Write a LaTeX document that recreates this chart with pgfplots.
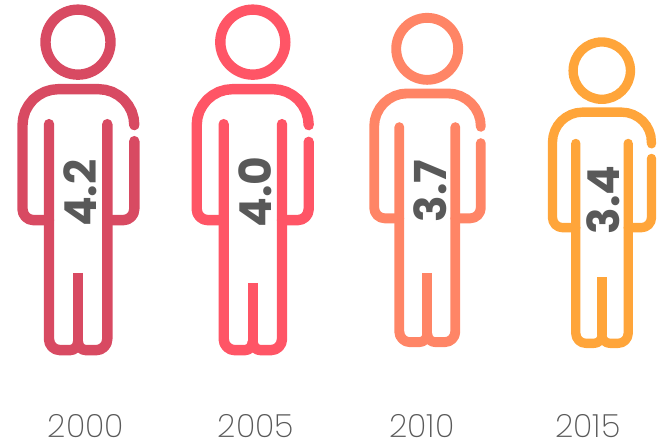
\documentclass[border=0pt]{standalone}
\usepackage{pgfplots}
\pgfplotsset{compat=1.18}
\usepackage{fontspec}
\setmainfont{Poppins}
\newfontfamily\yearfont{Poppins ExtraLight}
\definecolor{pa}{HTML}{D84A62}
\definecolor{pb}{HTML}{FF5566}
\definecolor{pc}{HTML}{FF8566}
\definecolor{pd}{HTML}{FFA53A}
\definecolor{txt}{HTML}{595959}
\pgfplotsset{
  limb/.style n args={2}{color=#1, line width=#2, line cap=round, line join=round, no markers},
  crotch/.style n args={2}{color=#1, line width=#2, line cap=butt, no markers},
  headring/.style n args={3}{only marks, mark=o, mark size=#3, mark options={draw=#1, line width=#2, fill=none}},
  val/.style={only marks, mark=none, point meta=explicit symbolic, nodes near coords,
    every node near coord/.style={rotate=90, anchor=center, inner sep=0pt, font=\bfseries\fontsize{33}{33}\selectfont, text=txt}},
}
\begin{document}
\begin{tikzpicture}
\begin{axis}[
  scale only axis, width=496.5pt, height=333.75pt,
  xmin=0, xmax=662, ymin=0, ymax=445, y dir=reverse, clip=false,
  axis line style={draw=none}, major tick length=0pt, ytick=\empty,
  xtick={86,256,422,588}, xticklabels={2000,2005,2010,2015},
  xticklabel pos=lower,
  xticklabel style={anchor=center, inner sep=0pt, yshift=14pt, text=txt, font=\yearfont\fontsize{24}{24}\selectfont},
]
% 2000
\addplot[headring={pa}{7.8pt}{24.375pt}] coordinates {(78,42)};
\addplot[limb={pa}{7.8pt}] coordinates {(134.3,125)(133.6,118)(131.6,111.2)(128.2,105)(123.8,99.5)(118.3,95.1)(112.1,91.7)(105.3,89.7)(98.3,89)(58.5,89)(51.5,89.7)(44.7,91.7)(38.5,95.1)(33,99.5)(28.6,105)(25.2,111.2)(23.2,118)(22.5,125)(22.5,209)(23.34,213.2)(25.7,216.8)(29.3,219.16)(33.5,220)(49,220)};
\addplot[limb={pa}{7.8pt}] coordinates {(134.3,141)(134.3,209)(133.46,213.2)(131.1,216.8)(127.5,219.16)(123.3,220)(107.3,220)};
\addplot[limb={pa}{7.8pt}] coordinates {(49,124)(49,339)(49.84,343.2)(52.2,346.8)(55.8,349.16)(60,350)(70,350)(73.06,349.39)(75.66,347.66)(77.39,345.06)(78,342)};
\addplot[limb={pa}{7.8pt}] coordinates {(107.3,124)(107.3,339)(106.46,343.2)(104.1,346.8)(100.5,349.16)(96.3,350)(86,350)(82.94,349.39)(80.34,347.66)(78.61,345.06)(78,342)};
\addplot[crotch={pa}{7.8pt}] coordinates {(78,272.7)(78,342)};
% 2005
\addplot[headring={pb}{7.8pt}{24.375pt}] coordinates {(252.8,42)};
\addplot[limb={pb}{7.8pt}] coordinates {(308.7,125)(308,118)(306,111.2)(302.6,105)(298.2,99.5)(292.7,95.1)(286.5,91.7)(279.7,89.7)(272.7,89)(232.7,89)(225.7,89.7)(218.9,91.7)(212.7,95.1)(207.2,99.5)(202.8,105)(199.4,111.2)(197.4,118)(196.7,125)(196.7,209)(197.54,213.2)(199.9,216.8)(203.5,219.16)(207.7,220)(223.7,220)};
\addplot[limb={pb}{7.8pt}] coordinates {(308.7,141.7)(308.7,209)(307.86,213.2)(305.5,216.8)(301.9,219.16)(297.7,220)(282,220)};
\addplot[limb={pb}{7.8pt}] coordinates {(223.7,124)(223.7,339)(224.54,343.2)(226.9,346.8)(230.5,349.16)(234.7,350)(244.7,350)(247.76,349.39)(250.36,347.66)(252.09,345.06)(252.7,342)};
\addplot[limb={pb}{7.8pt}] coordinates {(282,124)(282,339)(281.16,343.2)(278.8,346.8)(275.2,349.16)(271,350)(260.7,350)(257.64,349.39)(255.04,347.66)(253.31,345.06)(252.7,342)};
\addplot[crotch={pb}{7.8pt}] coordinates {(252.7,282.7)(252.7,342)};
% 2010
\addplot[headring={pc}{7.4pt}{23.25pt}] coordinates {(427.2,48.7)};
\addplot[limb={pc}{7.4pt}] coordinates {(480.8,126.7)(480.2,119.9)(478.3,113.7)(475.2,108)(471.1,103)(466.1,98.9)(460.4,95.8)(454.2,93.9)(447.8,93.3)(407.2,93.3)(400.8,93.9)(394.6,95.8)(388.9,98.9)(383.9,103)(379.8,108)(376.7,113.7)(374.8,119.9)(374.2,126.3)(374.2,207.7)(375,211.7)(377.3,215.1)(380.7,217.4)(384.7,218.2)(399.3,218.2)};
\addplot[limb={pc}{7.4pt}] coordinates {(480.8,143)(480.8,207.7)(480,211.7)(477.7,215.1)(474.3,217.4)(470.3,218.2)(455.3,218.2)};
\addplot[limb={pc}{7.4pt}] coordinates {(399.3,127)(399.3,331.5)(400.1,335.5)(402.4,338.9)(405.8,341.2)(409.8,342)(419.3,342)(422.36,341.39)(424.96,339.66)(426.69,337.06)(427.3,334)};
\addplot[limb={pc}{7.4pt}] coordinates {(455.3,127)(455.3,331.5)(454.5,335.5)(452.2,338.9)(448.8,341.2)(444.8,342)(435.3,342)(432.24,341.39)(429.64,339.66)(427.91,337.06)(427.3,334)};
\addplot[crotch={pc}{7.4pt}] coordinates {(427.3,272.7)(427.3,334)};
% 2015
\addplot[headring={pd}{7pt}{21.5pt}] coordinates {(601.8,70.5)};
\addplot[limb={pd}{7pt}] coordinates {(651.5,143.7)(650.9,136.1)(649.2,130.5)(646.4,125.3)(642.7,120.8)(638.2,117.1)(633,114.3)(627.4,112.6)(621.5,112)(582.5,112)(576.6,112.6)(571,114.3)(565.8,117.1)(561.3,120.8)(557.6,125.3)(554.8,130.5)(553.1,136.1)(552.5,142)(552.5,217.5)(553.26,221.33)(555.43,224.57)(558.67,226.74)(562.5,227.5)(575.8,227.5)};
\addplot[limb={pd}{7pt}] coordinates {(651.5,158.3)(651.5,217.5)(650.74,221.33)(648.57,224.57)(645.33,226.74)(641.5,227.5)(628.2,227.5)};
\addplot[limb={pd}{7pt}] coordinates {(575.8,143.3)(575.8,333.2)(576.56,337.03)(578.73,340.27)(581.97,342.44)(585.8,343.2)(594,343.2)(597.06,342.59)(599.66,340.86)(601.39,338.26)(602,335.2)};
\addplot[limb={pd}{7pt}] coordinates {(628.2,143.3)(628.2,333.2)(627.44,337.03)(625.27,340.27)(622.03,342.44)(618.2,343.2)(610,343.2)(606.94,342.59)(604.34,340.86)(602.61,338.26)(602,335.2)};
\addplot[crotch={pd}{7pt}] coordinates {(602,277)(602,335.2)};
% values
\addplot[val] coordinates {(80,193)[4.2] (255,192)[4.0] (430,191)[3.7] (603,199.5)[3.4]};
\end{axis}
\end{tikzpicture}
\end{document}
